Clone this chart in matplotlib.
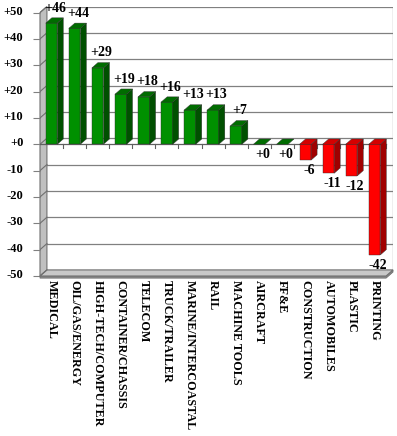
import matplotlib
matplotlib.use("Agg")
import matplotlib.pyplot as plt
from matplotlib.patches import Polygon
import matplotlib.transforms as mtransforms

categories = ["MEDICAL", "OIL/GAS/ENERGY", "HIGH-TECH/COMPUTER", "CONTAINER/CHASSIS",
              "TELECOM", "TRUCK/TRAILER", "MARINE/INTERCOASTAL", "RAIL", "MACHINE TOOLS",
              "AIRCRAFT", "FF&E", "CONSTRUCTION", "AUTOMOBILES", "PLASTIC", "PRINTING"]
values = [46, 44, 29, 19, 18, 16, 13, 13, 7, 0, 0, -6, -11, -12, -42]
yticks = [50, 40, 30, 20, 10, 0, -10, -20, -30, -40, -50]
ytick_labels = ["+50", "+40", "+30", "+20", "+10", "+0", "-10", "-20", "-30", "-40", "-50"]

plt.rcParams['font.family'] = ['Liberation Serif', 'DejaVu Serif']
plt.rcParams['font.weight'] = 'bold'

fig = plt.figure(figsize=(3.97, 4.36), dpi=100)
ax = fig.add_axes([40/397, 160/436, 353/397, 269.5/436])
n = len(categories)
DX, DY = 0.3, 2.3      # wall/floor depth
BDX, BDY = 0.26, 2.0   # bar depth
ax.set_xlim(0, n + DX)
ax.set_ylim(-50, 50 + DY)
for s in ax.spines.values():
    s.set_visible(False)
ax.patch.set_visible(False)

grid_c = '#808080'
# back plane gridlines
for t in yticks:
    ax.plot([DX, n + DX], [t + DY, t + DY], color=grid_c, lw=0.9, zorder=1)
ax.plot([n + DX, n + DX], [-50 + DY, 50 + DY], color=grid_c, lw=0.9, zorder=1)

# wall
ax.add_patch(Polygon([(0, -50), (0, 50), (DX, 50 + DY), (DX, -50 + DY)], closed=True,
                     facecolor='#c0c0c0', edgecolor='#707070', lw=0.8, zorder=1.5, clip_on=False))
for t in yticks:
    ax.plot([0, DX], [t, t + DY], color='#707070', lw=0.8, zorder=2)
# floor (slab)
ax.add_patch(Polygon([(0, -50), (n, -50), (n + DX, -50 + DY), (n + DX, -50 + DY - 0.8), (n, -50.8), (0, -50.8)],
                     closed=True, facecolor='#8c8c8c', edgecolor='#707070', lw=0.6, zorder=1.6, clip_on=False))
ax.add_patch(Polygon([(0, -50), (n, -50), (n + DX, -50 + DY), (DX, -50 + DY)], closed=True,
                     facecolor='#c8c8c8', edgecolor='#707070', lw=0.8, zorder=1.7, clip_on=False))

# zero axis line and category ticks
ax.plot([0, n], [0, 0], color='#606060', lw=0.9, zorder=2)
for i in range(1, n + 1):
    ax.plot([i, i], [0, -1.5], color='#606060', lw=0.8, zorder=2)

bw = 0.5
for i, v in enumerate(values):
    x0 = i + 0.5 - bw / 2
    x1 = x0 + bw
    if v >= 0:
        front, top, side = '#009000', '#006c00', '#005000'
    else:
        front, top, side = '#ff0000', '#d40000', '#a00000'
    lo, hi = min(0, v), max(0, v)
    z = 3
    if hi > lo:
        ax.add_patch(Polygon([(x0, lo), (x1, lo), (x1, hi), (x0, hi)], closed=True,
                             facecolor=front, edgecolor='#303030', lw=0.3, zorder=z))
        ax.add_patch(Polygon([(x1, lo), (x1 + BDX, lo + BDY), (x1 + BDX, hi + BDY), (x1, hi)], closed=True,
                             facecolor=side, edgecolor='#303030', lw=0.3, zorder=z))
    ax.add_patch(Polygon([(x0, hi), (x1, hi), (x1 + BDX, hi + BDY), (x0 + BDX, hi + BDY)], closed=True,
                         facecolor=top, edgecolor='#303030', lw=0.3, zorder=z))
    lab = ("+%d" % v) if v >= 0 else ("%d" % v)
    xc = i + 0.5 + 0.15
    if v > 0:
        ax.text(xc, v + 4.4, lab, ha='center', va='baseline', fontsize=10, fontweight='bold',
                zorder=5, clip_on=False)
    else:
        ax.text(xc, v - 1.6, lab, ha='center', va='top', fontsize=10, fontweight='bold',
                zorder=5, clip_on=False)

ax.set_yticks(yticks)
ax.set_yticklabels(ytick_labels, fontsize=9, fontweight='bold')
ax.tick_params(axis='y', length=5, color=grid_c, pad=7)
offset = mtransforms.ScaledTranslation(0, 0.025, fig.dpi_scale_trans)
for lbl in ax.get_yticklabels():
    lbl.set_transform(lbl.get_transform() + offset)

ax.set_xticks([i + 0.5 for i in range(n)])
ax.set_xticklabels(categories, rotation=-90, fontsize=8.7, fontweight='bold', va='top', ha='center')
ax.tick_params(axis='x', length=0, pad=3)

fig.savefig("out.png", dpi=100)
